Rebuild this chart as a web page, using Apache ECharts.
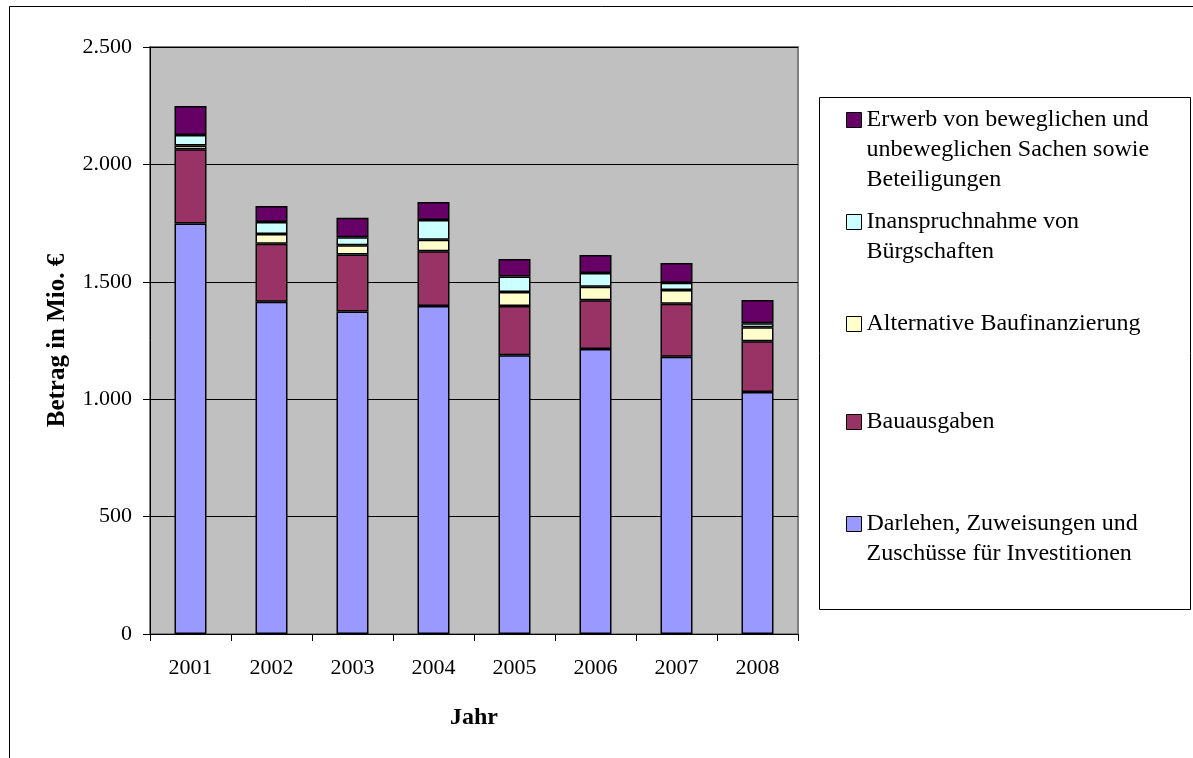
<!DOCTYPE html>
<html>
<head>
<meta charset="utf-8">
<script src="https://cdn.jsdelivr.net/npm/echarts@6/dist/echarts.min.js"></script>
<style>
html,body{margin:0;padding:0;background:#fff;}
#chart{width:1193px;height:758px;}
</style>
</head>
<body>
<div id="chart"></div>
<script>
var categories = ['2001','2002','2003','2004','2005','2006','2007','2008'];
var darlehen     = [1748, 1415, 1373, 1397, 1187, 1214, 1181, 1031];
var bauausgaben  = [316, 247, 243, 233, 210, 207, 226, 216];
var alternative  = [17, 42, 40, 49, 60, 58, 58, 59];
var buergschaft  = [44, 51, 34, 84, 66, 58, 31, 17];
var erwerb       = [124, 68, 83, 77, 74, 77, 84, 99];

var seriesNames = [
  'Darlehen, Zuweisungen und Zuschüsse für Investitionen',
  'Bauausgaben',
  'Alternative Baufinanzierung',
  'Inanspruchnahme von Bürgschaften',
  'Erwerb von beweglichen und unbeweglichen Sachen sowie Beteiligungen'
];
var legendLines = [
  ['Darlehen, Zuweisungen und', 'Zuschüsse für Investitionen'],
  ['Bauausgaben'],
  ['Alternative Baufinanzierung'],
  ['Inanspruchnahme von', 'Bürgschaften'],
  ['Erwerb von beweglichen und', 'unbeweglichen Sachen sowie', 'Beteiligungen']
];
var seriesData = [darlehen, bauausgaben, alternative, buergschaft, erwerb];
var colors = ['#9999FF', '#993366', '#FFFFCC', '#CCFFFF', '#660066'];
var yTicks = {min: 0, max: 2500, interval: 500};

var FONT = "'Liberation Serif', 'Times New Roman', serif";
var LINE_H = 30;
// icon centre y for each legend entry (top entry = Erwerb)
var legendCenters = [524, 422, 324, 222, 120];

function deFormat(v) {
  return String(v).replace(/\B(?=(\d{3})+(?!\d))/g, '.');
}

var series = seriesData.map(function (d, i) {
  return {
    name: seriesNames[i],
    type: 'bar',
    stack: 'total',
    barWidth: 32,
    data: d,
    itemStyle: {color: colors[i], borderColor: '#000', borderWidth: 1.5},
    emphasis: {disabled: true}
  };
});

var legends = seriesNames.map(function (name, i) {
  var n = legendLines[i].length;
  var blanks = n - 1;
  var totalLines = n + blanks;
  var h = totalLines * LINE_H;
  return {
    data: [name],
    orient: 'vertical',
    left: 846,
    top: legendCenters[i] - h / 2,
    padding: 0,
    itemWidth: 15,
    itemHeight: 15,
    selectedMode: false,
    icon: 'rect',
    itemStyle: {borderColor: '#000', borderWidth: 1},
    textStyle: {fontFamily: FONT, fontSize: 24, color: '#000', lineHeight: LINE_H},
    formatter: function () {
      var pre = [];
      for (var k = 0; k < blanks; k++) pre.push('');
      return pre.concat(legendLines[i]).join('\n');
    }
  };
});

var option = {
  animation: false,
  backgroundColor: '#fff',
  grid: {
    left: 150, top: 47, width: 648, height: 587,
    show: true, backgroundColor: '#C0C0C0', borderColor: '#808080', borderWidth: 2
  },
  xAxis: {
    type: 'category',
    data: categories,
    name: 'Jahr',
    nameLocation: 'middle',
    nameGap: 72,
    nameTextStyle: {fontFamily: FONT, fontSize: 24, fontWeight: 'bold', color: '#000'},
    axisLine: {lineStyle: {color: '#000', width: 1}},
    axisTick: {show: true, length: 7, lineStyle: {color: '#000'}},
    axisLabel: {fontFamily: FONT, fontSize: 22, color: '#000', margin: 23}
  },
  yAxis: {
    type: 'value',
    min: yTicks.min, max: yTicks.max, interval: yTicks.interval,
    name: 'Betrag in Mio. €',
    nameLocation: 'middle',
    nameGap: 80,
    nameRotate: 90,
    nameTextStyle: {fontFamily: FONT, fontSize: 25, fontWeight: 'bold', color: '#000'},
    axisLine: {show: true, lineStyle: {color: '#000', width: 1}},
    axisTick: {show: true, length: 7, lineStyle: {color: '#000'}},
    axisLabel: {fontFamily: FONT, fontSize: 22, color: '#000', margin: 18, formatter: deFormat},
    splitLine: {show: true, lineStyle: {color: '#000', width: 1}}
  },
  legend: legends,
  graphic: [
    {type: 'rect', shape: {x: 9.5, y: 6.5, width: 1400, height: 1000},
     style: {fill: 'none', stroke: '#000', lineWidth: 1}, silent: true},
    {type: 'rect', shape: {x: 819.5, y: 97.5, width: 371, height: 512},
     style: {fill: 'none', stroke: '#000', lineWidth: 1}, silent: true}
  ],
  series: series
};

var chart = echarts.init(document.getElementById('chart'));
chart.setOption(option);
</script>
</body>
</html>
